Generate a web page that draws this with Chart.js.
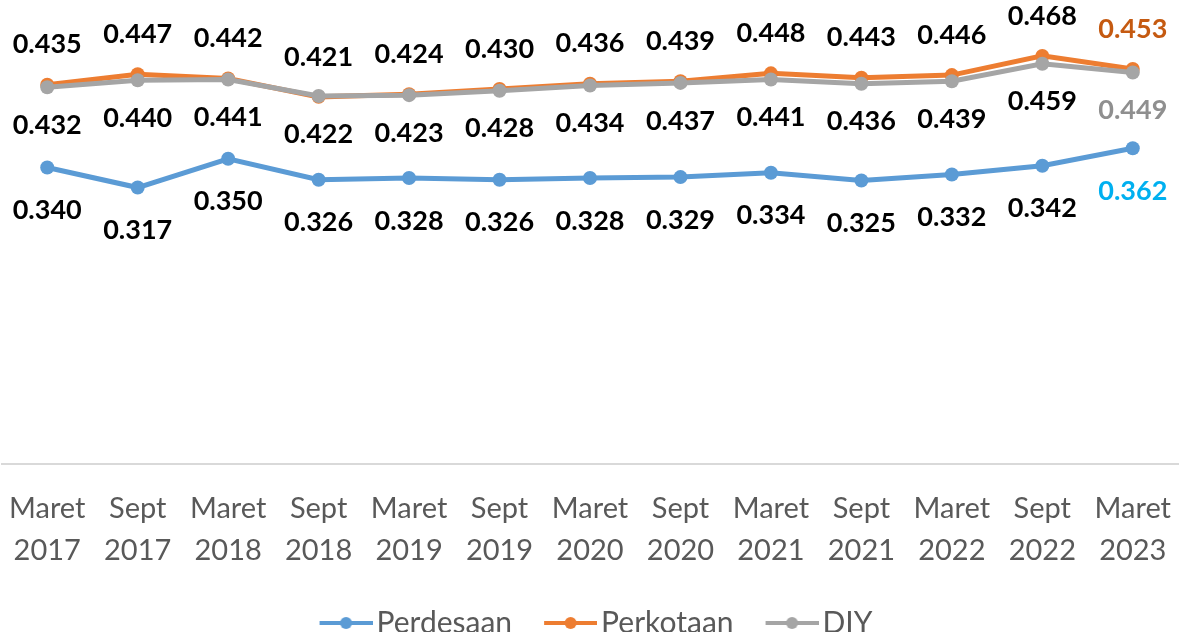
<!DOCTYPE html>
<html lang="id">
<head>
    <meta charset="UTF-8">
    <title>Gini Ratio DIY</title>
    <script src="https://cdn.jsdelivr.net/npm/chart.js"></script>
    <style>
        body { margin: 0; padding: 0; background: #ffffff; }
        #wrap { width: 1179px; height: 632px; }
    </style>
</head>
<body>
<div id="wrap"><canvas id="giniChart" width="1179" height="632"></canvas></div>
<script>
    // data
    const periods = [
        ['Maret', '2017'], ['Sept', '2017'], ['Maret', '2018'], ['Sept', '2018'],
        ['Maret', '2019'], ['Sept', '2019'], ['Maret', '2020'], ['Sept', '2020'],
        ['Maret', '2021'], ['Sept', '2021'], ['Maret', '2022'], ['Sept', '2022'],
        ['Maret', '2023']
    ];
    const perdesaan = [0.340, 0.317, 0.350, 0.326, 0.328, 0.326, 0.328, 0.329, 0.334, 0.325, 0.332, 0.342, 0.362];
    const perkotaan = [0.435, 0.447, 0.442, 0.421, 0.424, 0.430, 0.436, 0.439, 0.448, 0.443, 0.446, 0.468, 0.453];
    const diy = [0.432, 0.440, 0.441, 0.422, 0.423, 0.428, 0.434, 0.437, 0.441, 0.436, 0.439, 0.459, 0.449];

    const BLUE = '#5b9bd5', ORANGE = '#ed7d31', GRAY = '#a5a5a5';

    // legend marker: line with a dot in the middle (left part transparent for spacing)
    function legendMarker(color) {
        const c = document.createElement('canvas');
        c.width = 76; c.height = 14;
        const g = c.getContext('2d');
        g.strokeStyle = color; g.lineWidth = 4;
        g.beginPath(); g.moveTo(23, 7); g.lineTo(76, 7); g.stroke();
        g.fillStyle = color;
        g.beginPath(); g.arc(49.5, 7, 6, 0, Math.PI * 2); g.fill();
        return c;
    }

    // value labels drawn next to each point
    const valueLabels = {
        id: 'valueLabels',
        afterDatasetsDraw(chart) {
            const ctx = chart.ctx;
            ctx.save();
            ctx.font = 'bold 27px Lato';
            ctx.textAlign = 'center';
            ctx.textBaseline = 'middle';
            chart.data.datasets.forEach((ds, i) => {
                const meta = chart.getDatasetMeta(i);
                meta.data.forEach((pt, j) => {
                    const last = j === ds.data.length - 1;
                    ctx.fillStyle = last ? ds.lastLabelColor : '#000000';
                    ctx.fillText(ds.data[j].toFixed(3), pt.x, pt.y + ds.labelOffset);
                });
            });
            ctx.restore();
        }
    };

    function lineSet(label, data, color, order, offset, lastColor) {
        return {
            label: label,
            data: data,
            borderColor: color,
            backgroundColor: color,
            borderWidth: 5,
            pointRadius: 7,
            pointBorderWidth: 0,
            pointBackgroundColor: color,
            tension: 0,
            order: order,
            labelOffset: offset,
            lastLabelColor: lastColor,
            legendMarker: legendMarker(color)
        };
    }

    new Chart(document.getElementById('giniChart'), {
        type: 'line',
        data: {
            labels: periods,
            datasets: [
                lineSet('Perdesaan', perdesaan, BLUE, 2, 43, '#00b0f0'),
                lineSet('Perkotaan', perkotaan, ORANGE, 1, -40, '#c55a11'),
                lineSet('DIY', diy, GRAY, 0, 38, '#8f8f8f')
            ]
        },
        options: {
            responsive: false,
            animation: false,
            layout: {
                autoPadding: false,
                padding: { top: 28, left: 2, right: 1, bottom: -16 }
            },
            scales: {
                x: {
                    offset: true,
                    grid: { display: false },
                    border: { display: true, color: '#d9d9d9', width: 2 },
                    ticks: {
                        color: '#595959',
                        font: { family: 'Lato', size: 29, lineHeight: 1.45 },
                        maxRotation: 0,
                        autoSkip: false,
                        padding: 16
                    },
                    // keep the plot full width; end labels fit inside the category offset
                    afterFit(scale) {
                        scale.paddingLeft = 0;
                        scale.paddingRight = 0;
                    }
                },
                y: {
                    display: false,
                    min: 0,
                    max: 0.5
                }
            },
            plugins: {
                tooltip: { enabled: false },
                legend: {
                    position: 'bottom',
                    labels: {
                        color: '#595959',
                        font: { family: 'Lato', size: 30 },
                        usePointStyle: true,
                        pointStyleWidth: 54,
                        padding: 20,
                        sort: (a, b) => a.datasetIndex - b.datasetIndex,
                        generateLabels(chart) {
                            const items = Chart.defaults.plugins.legend.labels.generateLabels(chart);
                            items.forEach(it => {
                                it.pointStyle = chart.data.datasets[it.datasetIndex].legendMarker;
                            });
                            return items;
                        }
                    }
                }
            }
        },
        plugins: [valueLabels]
    });
</script>
</body>
</html>
